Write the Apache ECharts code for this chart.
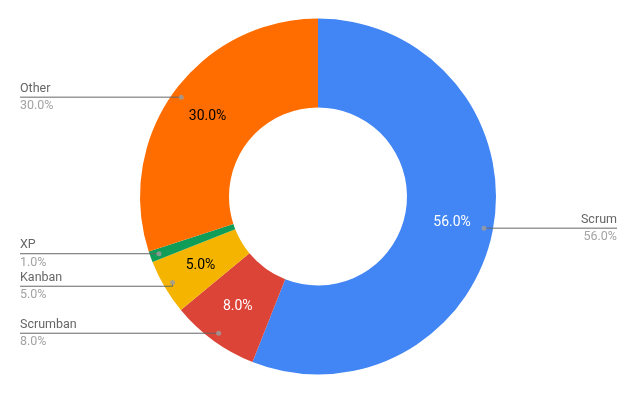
<!DOCTYPE html>
<html>
<head>
<meta charset="utf-8">
<script src="https://cdn.jsdelivr.net/npm/echarts@6/dist/echarts.min.js"></script>
<style>html,body{margin:0;padding:0;background:#fff}#c{width:637px;height:394px}</style>
</head>
<body>
<div id="c"></div>
<script>
const categories = ['Scrum', 'Scrumban', 'Kanban', 'XP', 'Other'];
const values = [56, 8, 5, 1, 30];
const colors = ['#4285F4', '#DB4437', '#F4B400', '#0F9D58', '#FF6D01'];
const insideTextColors = ['#ffffff', '#ffffff', '#000000', '#000000', '#000000'];

const total = values.reduce((a, b) => a + b, 0);
const pct = v => (v / total * 100).toFixed(1) + '%';

const CX = 318, CY = 196.5, R = 178, R0 = 89, RDOT = 169;
const W = 70;

// dot positions along the angle axis (cumulative mid-points)
let cum = 0;
const dots = values.map(v => { const m = cum + v / 2; cum += v; return [RDOT, m]; });

const richN = {fontSize: 12.5, color: '#666666', lineHeight: 16.5, width: W, fontFamily: 'Roboto', padding: [0, 0, 1, 0]};
const richP = {fontSize: 12.5, color: '#a3a3a3', lineHeight: 16.5, width: W, fontFamily: 'Roboto', padding: [1, 0, 0, 0]};

const chart = echarts.init(document.getElementById('c'), null, {renderer: 'canvas'});
chart.setOption({
  animation: false,
  textStyle: {fontFamily: 'Roboto'},
  polar: {center: [CX, CY], radius: R},
  angleAxis: {type: 'value', min: 0, max: total, startAngle: 90, clockwise: true,
    axisLine: {show: false}, axisTick: {show: false}, axisLabel: {show: false}, splitLine: {show: false}},
  radiusAxis: {type: 'value', min: 0, max: R,
    axisLine: {show: false}, axisTick: {show: false}, axisLabel: {show: false}, splitLine: {show: false}},
  series: [
    {
      type: 'pie', center: [CX, CY], radius: [R0, R], startAngle: 90, clockwise: true,
      avoidLabelOverlap: false, silent: true,
      itemStyle: {borderColor: '#fff', borderWidth: 0},
      label: {position: 'inside', fontSize: 14, fontFamily: 'Roboto'},
      labelLine: {show: false},
      data: categories.map((n, i) => ({
        name: n, value: values[i], itemStyle: {color: colors[i]},
        label: {show: values[i] >= 2, color: insideTextColors[i], formatter: () => pct(values[i])}
      }))
    },
    {
      type: 'pie', center: [CX, CY], radius: [R0, RDOT], startAngle: 90, clockwise: true,
      avoidLabelOverlap: true, silent: true, z: 3,
      itemStyle: {color: 'rgba(0,0,0,0)'},
      label: {
        position: 'outside', alignTo: 'edge', edgeDistance: 20, distanceToLabelLine: -W,
        fontFamily: 'Roboto',
        formatter: p => '{n|' + p.name + '}\n{p|' + pct(p.value) + '}',
        rich: {n: richN, p: richP}
      },
      labelLine: {show: true, length: 0, length2: 10, lineStyle: {color: '#666666', width: 1}},
      data: categories.map((n, i) => ({
        name: n, value: values[i],
        label: i === 0 ? {rich: {
          n: Object.assign({}, richN, {align: 'right'}),
          p: Object.assign({}, richP, {align: 'right'})
        }} : {}
      }))
    },
    {
      type: 'scatter', coordinateSystem: 'polar', symbolSize: 5, z: 5, silent: true,
      itemStyle: {color: '#9e9e9e'},
      data: dots
    }
  ]
});
</script>
</body>
</html>
